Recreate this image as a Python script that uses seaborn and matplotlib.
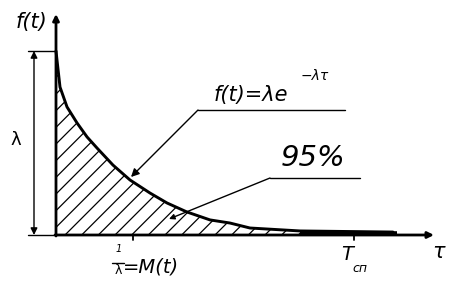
# Exponential failure density diagram: f(t) = λ e^(-λτ) with hatched 95% area
import numpy as np
import pandas as pd
import seaborn as sns
import matplotlib.pyplot as plt

# Curve (t in units of 1/λ, f in units of λ)
t_vals = [0.0, 0.052, 0.143, 0.273, 0.403, 0.532, 0.740, 0.961, 1.221,
          1.442, 1.701, 2.0, 2.260, 2.519, 3.169, 4.377]
f_vals = [1.0, 0.804, 0.696, 0.609, 0.533, 0.473, 0.380, 0.299, 0.228,
          0.174, 0.125, 0.082, 0.065, 0.038, 0.022, 0.016]
t_hatch_end = 3.3          # hatched area runs up to here
t_mean = 1.0               # 1/λ = M(t)
t_service = 3.87           # T_сп

x_label = "τ"
y_label = "f(t)"
lam_label = "λ"
formula_main = "f(t)=λe"
formula_sup = "−λτ"
area_label = "95%"
mean_label = "=M(t)"
service_label = "T"
service_sub = "сп"

df = pd.DataFrame({"t": t_vals, "f": f_vals})

sns.set_style("white")
plt.rcParams['font.family'] = ['DejaVu Sans']
plt.rcParams['text.color'] = 'black'
plt.rcParams['hatch.linewidth'] = 0.9


# pixel -> data helpers (x origin at px 56, 77 px per 1/λ; baseline at py 235, 184 px per λ)
def X(px):
    return (px - 56) / 77.0


def Y(py):
    return (235 - py) / 184.0


fig = plt.figure(figsize=(4.52, 2.89), dpi=100)
ax = fig.add_axes([0, 0, 1, 1])
ax.set_xlim(X(0), X(452))
ax.set_ylim(Y(289), Y(0))
ax.axis("off")

# hatched area under the curve
t_fill = np.array([t for t in t_vals if t <= t_hatch_end] + [t_hatch_end])
f_fill = np.interp(t_fill, t_vals, f_vals)
ax.fill_between(t_fill, 0, f_fill, hatch="//", facecolor="none", edgecolor="black", linewidth=0)

# the curve
sns.lineplot(data=df, x="t", y="f", ax=ax, color="black", linewidth=2.1)

# axes with arrows
arrow = dict(arrowstyle="-|>", color="black", lw=2.0, mutation_scale=9, shrinkA=0, shrinkB=0)
ax.annotate("", xy=(0, Y(14)), xytext=(0, Y(236)), arrowprops=arrow)
ax.annotate("", xy=(X(434), 0), xytext=(X(55), 0), arrowprops=arrow)
# thick band where curve merges with axis
ax.plot([X(300), X(397)], [Y(233), Y(233)], color="black", lw=2.6, solid_capstyle="butt")

# λ level and base extension lines
ax.plot([X(28), 0], [1.0, 1.0], color="black", lw=1)
ax.plot([X(28), 0], [0, 0], color="black", lw=1)
# dimension line for λ
ax.annotate("", xy=(X(34), 1.0), xytext=(X(34), 0),
            arrowprops=dict(arrowstyle="<|-|>", color="black", lw=1, mutation_scale=10,
                            shrinkA=0, shrinkB=0))
ax.text(X(16), Y(140), lam_label, fontsize=13, ha="center", va="center")

# ticks on the time axis
ax.plot([t_mean, t_mean], [0, Y(240)], color="black", lw=1.3)
ax.plot([t_service, t_service], [0, Y(240)], color="black", lw=1.3)

# axis labels
ax.text(X(31), Y(22), y_label, fontsize=15, style="italic", ha="center", va="center")
ax.text(X(439), Y(252), x_label, fontsize=15, style="italic", ha="center", va="center")

# formula with leader
ax.text(X(214), Y(95), formula_main, fontsize=15, style="italic", ha="left", va="center")
ax.text(X(301), Y(76), formula_sup, fontsize=10, style="italic", ha="left", va="center")
ax.plot([X(198), X(345)], [Y(110), Y(110)], color="black", lw=1)
ax.annotate("", xy=(X(131), Y(177)), xytext=(X(198), Y(110)),
            arrowprops=dict(arrowstyle="-|>", color="black", lw=1, mutation_scale=12,
                            shrinkA=0, shrinkB=0))

# 95% with leader
ax.text(X(313), Y(158), area_label, fontsize=21, style="italic", ha="center", va="center")
ax.plot([X(270), X(360)], [Y(178), Y(178)], color="black", lw=1)
ax.annotate("", xy=(X(169), Y(219)), xytext=(X(270), Y(178)),
            arrowprops=dict(arrowstyle="-|>", color="black", lw=1, mutation_scale=8,
                            shrinkA=0, shrinkB=0))

# 1/λ = M(t)
ax.text(X(119), Y(249), "1", fontsize=7, style="italic", ha="center", va="center")
ax.plot([X(112), X(124)], [Y(263), Y(263)], color="black", lw=1)
ax.text(X(118), Y(271), lam_label, fontsize=9, ha="center", va="center")
ax.text(X(123), Y(267), mean_label, fontsize=14, style="italic", ha="left", va="center")

# T_сп
ax.text(X(347), Y(255), service_label, fontsize=14, style="italic", ha="center", va="center")
ax.text(X(352), Y(268), service_sub, fontsize=9, style="italic", ha="left", va="center")

plt.savefig("out.png", dpi=100)
